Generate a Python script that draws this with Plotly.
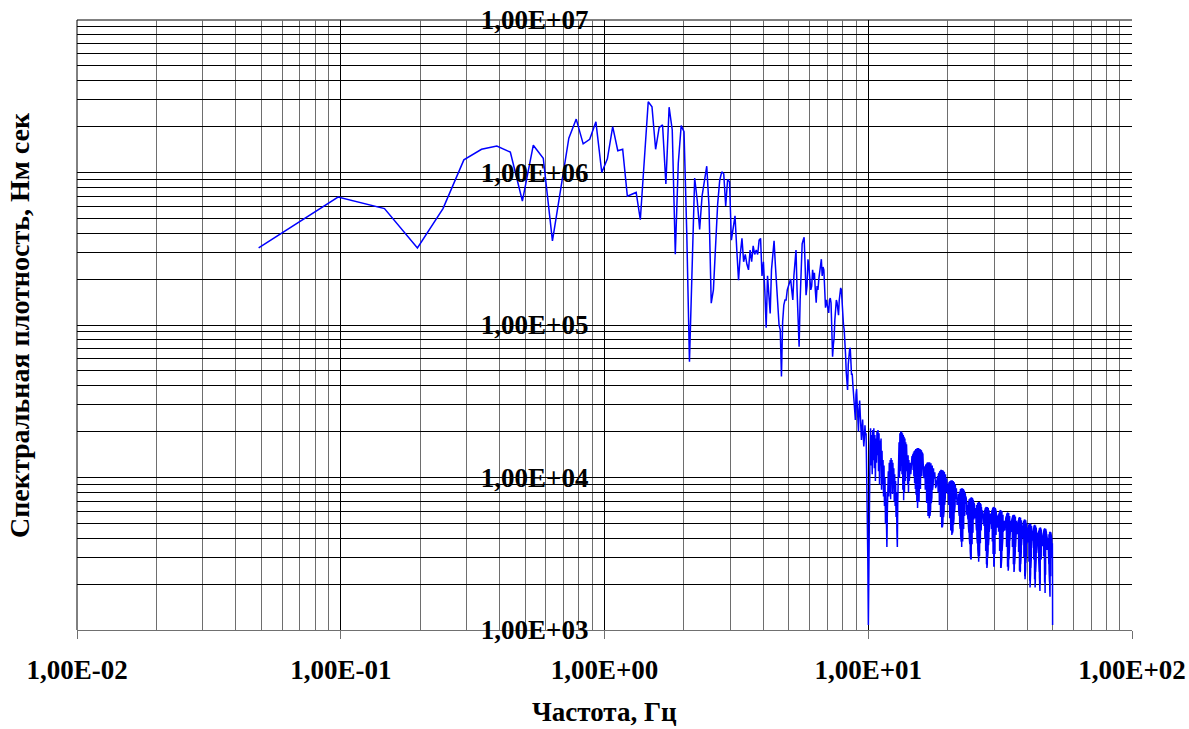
import numpy as np
import plotly.graph_objects as go

# Spectral density of the torque record, sampled at 100 Hz (2048-point FFT)
DF = 100.0 / 2048  # frequency step, Hz

psd_below_3hz = [
    320000, 690000, 580000, 320000, 580000, 1210000, 1420000, 1490000, 1360000, 650000,
    1510000, 1240000, 356000, 810000, 1680000, 2240000, 1540000, 1650000, 2150000, 1000000,
    1230000, 2000000, 1390000, 1420000, 700000, 720000, 740000, 490000, 1200000, 2910000,
    2700000, 1420000, 1970000, 2050000, 840000, 2680000, 1900000, 291000, 1150000, 2030000,
    1850000, 400000, 57400, 250000, 920000, 660000, 424000, 700000, 900000, 1100000,
    600000, 139000, 170000, 360000, 620000, 890000, 1010000, 980000, 603000, 900000,
]

psd_3_to_10hz = [
    870000, 360000, 450000, 520000, 310000, 197000, 290000, 370000, 260000, 290000,
    250000, 230000, 310000, 260000, 330000, 290000, 310000, 290000, 360000, 370000,
    210000, 260000, 170000, 96000, 210000, 146000, 119000, 230000, 300000, 356000,
    250000, 170000, 146000, 100000, 93000, 46000, 105000, 135000, 146000, 146000,
    170000, 180000, 190000, 200000, 170000, 146000, 210000, 270000, 310000, 170000,
    108000, 72000, 146000, 250000, 340000, 360000, 376000, 250000, 157000, 180000,
    270000, 240000, 200000, 170000, 180000, 230000, 200000, 220000, 170000, 140000,
    180000, 170000, 200000, 230000, 260000, 270000, 210000, 240000, 230000, 157000,
    130000, 146000, 135000, 125000, 120000, 146000, 150000, 140000, 93000, 62000,
    74000, 82000, 108000, 135000, 146000, 140000, 125000, 116000, 146000, 165000,
    175000, 170000, 130000, 116000, 100000, 93000, 80000, 64000, 49000, 39000,
    37500, 55000, 64000, 69000, 71000, 59000, 47000, 48000, 41000, 35000,
    30000, 27000, 23800, 35000, 38000, 30000, 24000, 20000, 28000, 32000,
    26000, 20500, 17600, 21000, 24000, 19000, 16000, 18000, 22000, 19000,
    19500, 10600, 7100, 3000, 1080,
]

psd_10_to_15hz = [
    3500, 11000, 16000, 21000, 12000, 19000, 10500, 20500, 13000, 21000,
    11500, 19000, 9500, 18000, 12500, 20000, 14000, 20500, 11000, 19500,
    9000, 17500, 12000, 18000, 8300, 15000, 9000, 13000, 7500, 12000,
    6500, 10000, 5000, 8000, 3600, 3500, 6000, 9000, 11000, 7500,
    12500, 8000, 13000, 7200, 13400, 9000, 13000, 7800, 12500, 8500,
    11500, 7000, 10500, 6500, 9500, 5500, 8000, 4500, 3500, 7000,
    13000, 8500, 17000, 10000, 19500, 11000, 20000, 12000, 20000, 10500,
    19500, 8300, 19000, 7100, 18500, 8000, 18000, 9500, 17000, 11000,
    16500, 12000, 15500, 9000, 14000, 8000, 13000, 9500, 12000, 10000,
    12500, 10500, 13500, 11500,
]

psd_15_to_25hz = [
    13800, 12200, 14200, 11200, 14600, 10200, 14900, 9200, 15100, 8400, 15400, 7700, 15400, 6900, 15600, 6300,
    15600, 6300, 15600, 6900, 15400, 7700, 15400, 8400, 15100, 9200, 14900, 10200, 14600, 11200, 14200, 12200,
    11200, 9900, 11500, 9000, 11800, 8300, 12000, 7400, 12200, 6800, 12400, 6200, 12500, 5600, 12600, 5400,
    12600, 5400, 12600, 5600, 12500, 6200, 12400, 6800, 12200, 7400, 12000, 8300, 11800, 9000, 11500, 9900,
    11200, 10000, 10800, 9800, 10700,
    8500, 9500, 8700, 9600, 8900, 9900, 8800, 10200, 8000, 10500, 7300, 10700, 6600, 10900, 6000, 11000, 5500,
    11100, 5000, 11200, 4700, 11200, 4700, 11200, 5000, 11100, 5500, 11000, 6000, 10900, 6600, 10700, 7300,
    10500, 8000, 10200, 8800, 9900, 8900,
    8500, 7800, 8800, 7200, 9000, 6600, 9200, 5900, 9300, 5400, 9500, 4900, 9500, 4500, 9600, 4300, 9600, 4200,
    9600, 4300, 9600, 4500, 9500, 4900, 9500, 5400, 9300, 5900, 9200, 6600, 9000, 7200, 8800, 7800, 8500, 7400, 8300,
    6600, 7300, 6800, 7500, 6700, 7800, 6100, 7900, 5600, 8100, 5000, 8200, 4600, 8400, 4200, 8400, 3800, 8500, 3500,
    8500, 3500, 8500, 3800, 8400, 4200, 8400, 4600, 8200, 5000, 8100, 5600, 7900, 6100, 7800, 6700, 7500, 6800, 7300,
    5700, 6400, 5900, 6600, 5800, 6800, 5300, 6900, 4850, 7100, 4350, 7200, 4000, 7300, 3650, 7300, 3300, 7400, 2900,
    7400, 2900, 7400, 3300, 7300, 3650, 7300, 4000, 7200, 4350, 7100, 4850, 6900, 5300, 6800, 5800, 6600, 5900,
]

psd_25_to_37hz = [
    5900, 5500, 6100, 5400, 6300, 4950, 6400, 4500, 6600, 4050, 6700, 3700, 6800, 3400, 6800, 3050, 6900, 2800, 6900,
    2800, 6900, 3050, 6800, 3400, 6800, 3700, 6700, 4050, 6600, 4500, 6400, 4950, 6300, 5400, 6100, 5500, 5900, 5300,
    5500, 4950, 5700, 5200, 5800, 4800, 6000, 4400, 6100, 3950, 6200, 3600, 6300, 3300, 6300, 3000, 6400, 2700, 6400,
    2550, 6400, 2700, 6400, 3000, 6300, 3300, 6300, 3600, 6200, 3950, 6100, 4400, 6000, 4800, 5800, 5200, 5700, 4950,
    5500, 5100, 5700, 5000, 5800, 4600, 6000, 4200, 6100, 3800, 6200, 3450, 6300, 3150, 6300, 2850, 6400, 2600, 6400,
    2600, 6400, 2850, 6300, 3150, 6300, 3450, 6200, 3800, 6100, 4200, 6000, 4600, 5800, 5000, 5700, 5100, 5500,
    4700, 5200, 4850, 5400, 4800, 5600, 4400, 5700, 4000, 5800, 3600, 5900, 3300, 6000, 3000, 6000, 2700, 6100, 2550, 6100,
    2550, 6100, 2700, 6000, 3000, 6000, 3300, 5900, 3600, 5800, 4000, 5700, 4400, 5600, 4800, 5400, 4850, 5200, 4700, 5200,
    4500, 5000, 4550, 5100, 4700, 5200, 4650, 5400, 4250, 5500, 3850, 5600, 3500, 5700, 3150, 5800, 2900, 5850, 2600, 5900,
    2450, 5900, 2450, 5900, 2600, 5850, 2900, 5800, 3150, 5700, 3500, 5600, 3850, 5500, 4250, 5400, 4650, 5200, 4700, 5100,
    4400, 5050, 4600, 5200, 4300, 5300, 3900, 5450, 3500, 5550, 3200, 5600, 2950, 5650, 2700, 5700, 2500, 5700, 2400,
    5700, 2500, 5700, 2700, 5650, 2950, 5600, 3200, 5550, 3500, 5450, 3900, 5300, 4300, 5200, 4600, 5050, 4400, 4900,
]

psd_37_to_50hz = [
    4250, 4700, 4400, 4850, 4300, 5000, 3950, 5150, 3600, 5250, 3250, 5350, 2950, 5400, 2700, 5450, 2450, 5500, 2400,
    5500, 2400, 5500, 2450, 5450, 2700, 5400, 2950, 5350, 3250, 5250, 3600, 5150, 3950, 5000, 4300, 4850, 4400,
    4700, 4300, 4850, 4000, 4950, 3650, 5050, 3250, 5150, 3000, 5200, 2750, 5250, 2500, 5300, 2250, 5300, 2150,
    5300, 2250, 5300, 2500, 5250, 2750, 5200, 3000, 5150, 3250, 5050, 3650, 4950, 4000, 4850, 4300, 4700,
    3850, 4450, 4050, 4550, 3750, 4650, 3450, 4800, 3100, 4850, 2800, 4900, 2550, 4950, 2350, 5000, 2100, 5000, 1900,
    5000, 2100, 5000, 2350, 4950, 2550, 4900, 2800, 4850, 3100, 4800, 3450, 4650, 3750, 4550, 4050, 4450, 3850,
    4200, 3900, 4350, 3850, 4450, 3500, 4600, 3200, 4700, 2900, 4750, 2650, 4850, 2400, 4850, 2150, 4900, 1900, 4900,
    1900, 4900, 2150, 4850, 2400, 4850, 2650, 4750, 2900, 4700, 3200, 4600, 3500, 4450, 3850, 4350, 3900, 4200, 3800,
    4050, 3650, 4150, 3800, 4300, 3550, 4400, 3200, 4500, 2900, 4550, 2650, 4650, 2400, 4650, 2200, 4700, 2000, 4700, 1800,
    4700, 2000, 4700, 2200, 4650, 2400, 4650, 2650, 4550, 2900, 4500, 3200, 4400, 3550, 4300, 3800, 4150, 3650, 4050, 3550,
    3950, 3600, 4000, 3700, 4100, 3650, 4250, 3350, 4350, 3050, 4450, 2750, 4500, 2500, 4600, 2300, 4600, 2050, 4650, 1750, 4650,
    1750, 4650, 2050, 4600, 2300, 4600, 2500, 4500, 2750, 4450, 3050, 4350, 3350, 4250, 3650, 4100, 3700, 4000, 3600, 3950, 3550,
    3750, 3350, 3800, 3400, 3900, 3550, 4000, 3300, 4100, 3000, 4200, 2700, 4250, 2500, 4350, 2250, 4350, 2050, 4400, 1850,
    4400, 1650, 4400, 1850, 4400, 2050, 4350, 2250, 4350, 2500, 4250, 2700, 4200, 3000, 4100, 3300, 4000, 3550, 3900,
    3300, 3750, 3000, 3700, 2500, 1080,
]

x_tick_values = [0.01, 0.1, 1, 10, 100]
x_tick_labels = ["1,00E-02", "1,00E-01", "1,00E+00", "1,00E+01", "1,00E+02"]
y_tick_values = [1e3, 1e4, 1e5, 1e6, 1e7]
y_tick_labels = ["1,00E+03", "1,00E+04", "1,00E+05", "1,00E+06", "1,00E+07"]

psd = np.concatenate([
    psd_below_3hz, psd_3_to_10hz, psd_10_to_15hz,
    psd_15_to_25hz, psd_25_to_37hz, psd_37_to_50hz,
]).astype(float)
freq = DF * np.arange(1, psd.size + 1)

# intermediate grid lines (2..9 within each decade)
x_minor = [m * 10.0 ** e for e in range(-2, 2) for m in range(2, 10)]
y_minor = [m * 10.0 ** e for e in range(3, 7) for m in range(2, 10)]

FONT = "Liberation Serif, Times New Roman, serif"

fig = go.Figure(
    go.Scatter(
        x=freq, y=psd, mode="lines",
        line=dict(color="#0000ff", width=1.5),
        hoverinfo="skip",
    )
)

fig.update_layout(
    width=1189, height=729,
    margin=dict(l=77, r=57, t=20, b=99, autoexpand=False),
    paper_bgcolor="white", plot_bgcolor="white",
    showlegend=False,
    font=dict(family=FONT, color="black"),
)

fig.update_xaxes(
    type="log", range=[-2, 2], automargin=False,
    tickvals=x_tick_values, ticktext=x_tick_labels,
    tickfont=dict(family=FONT, size=27, weight="bold", color="black"),
    ticks="outside", ticklen=8, tickwidth=1, tickcolor="#707070",
    ticklabelstandoff=8,
    showline=True, linecolor="#707070", linewidth=1,
    showgrid=True, gridcolor="#000000", gridwidth=1,
    minor=dict(tickvals=x_minor, showgrid=True, gridcolor="#6e6e6e", gridwidth=1, ticks=""),
    zeroline=False,
)

# value axis crosses the frequency axis at 1 Hz, labels sit just left of it
fig.update_yaxes(
    type="log", range=[3, 7], automargin=False,
    anchor="free", position=0.5,
    tickvals=y_tick_values, ticktext=y_tick_labels,
    tickfont=dict(family=FONT, size=27, weight="bold", color="black"),
    ticks="", ticklabelstandoff=16,
    showline=False,
    showgrid=True, gridcolor="#000000", gridwidth=1,
    minor=dict(tickvals=y_minor, showgrid=True, gridcolor="#000000", gridwidth=1, ticks=""),
    zeroline=False,
)

# plot-area frame (left and top edges) and the value-axis line at 1 Hz
fig.add_shape(type="line", xref="paper", yref="paper", x0=0, x1=0, y0=0, y1=1,
              line=dict(color="black", width=1), layer="below")
fig.add_shape(type="line", xref="paper", yref="paper", x0=0, x1=1, y0=1, y1=1,
              line=dict(color="black", width=1), layer="below")
fig.add_shape(type="line", xref="x", yref="paper", x0=1, x1=1, y0=0, y1=1,
              line=dict(color="black", width=1), layer="below")

# axis titles
fig.add_annotation(text="Частота, Гц", xref="paper", yref="paper", x=0.5, y=0,
                   yshift=-82, showarrow=False, yanchor="middle",
                   font=dict(family=FONT, size=27, weight="bold", color="black"))
fig.add_annotation(text="Спектральная плотность, Нм сек", xref="paper", yref="paper",
                   x=0, y=0.5, xshift=-58, textangle=-90, showarrow=False,
                   xanchor="center", yanchor="middle",
                   font=dict(family=FONT, size=28, weight="bold", color="black"))

fig.write_html("out.html")
